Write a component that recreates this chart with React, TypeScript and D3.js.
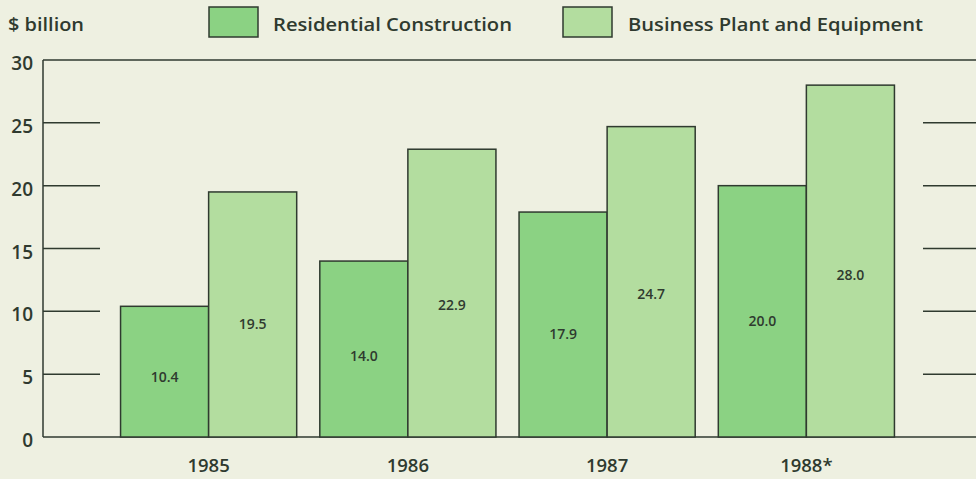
import React from "react";
import * as d3 from "d3";

const years = ["1985", "1986", "1987", "1988*"];
const residential = [10.4, 14.0, 17.9, 20.0];
const business = [19.5, 22.9, 24.7, 28.0];
const seriesNames = ["Residential Construction", "Business Plant and Equipment"];
const yTicks = [0, 5, 10, 15, 20, 25, 30];

const W = 976;
const H = 479;
const BG = "#eef0e1";
const C_RES = "#8bd283";
const C_BUS = "#b3dd9f";
const INK = "#2f3a2f";
const FONT = "'Open Sans', 'DejaVu Sans', sans-serif";

export default function App() {
  const x = d3.scaleBand<string>().domain(years).range([109, 906]).paddingInner(0.116).paddingOuter(0.058);
  const sub = d3.scaleBand<string>().domain(["r", "b"]).range([0, x.bandwidth()]);
  const y = d3.scaleLinear().domain([0, 30]).range([437, 60]);
  const left = 43;
  const right = W;

  return (
    <svg width={W} height={H} style={{ position: "absolute", left: 0, top: 0, background: BG }} fontFamily={FONT}>
      <rect x={0} y={0} width={W} height={H} fill={BG} />
      <text x={8} y={31} fontSize={18} fontWeight={600} fill={INK} textLength={76} lengthAdjust="spacingAndGlyphs">$ billion</text>
      {/* legend */}
      <rect x={209} y={7} width={49} height={30} fill={C_RES} stroke={INK} strokeWidth={1.5} />
      <text x={273} y={31} fontSize={18} fontWeight={600} fill={INK} textLength={239} lengthAdjust="spacingAndGlyphs">{seriesNames[0]}</text>
      <rect x={563} y={7} width={49} height={30} fill={C_BUS} stroke={INK} strokeWidth={1.5} />
      <text x={628} y={31} fontSize={18} fontWeight={600} fill={INK} textLength={295} lengthAdjust="spacingAndGlyphs">{seriesNames[1]}</text>

      {/* frame */}
      <line x1={left} x2={left} y1={y(30)} y2={y(0)} stroke={INK} strokeWidth={1.5} />
      <line x1={left} x2={right} y1={y(30)} y2={y(30)} stroke={INK} strokeWidth={1.5} />
      <line x1={left} x2={right} y1={y(0)} y2={y(0)} stroke={INK} strokeWidth={1.5} />
      {yTicks.filter((t) => t > 0 && t < 30).map((t) => (
        <g key={t}>
          <line x1={left} x2={100} y1={y(t)} y2={y(t)} stroke={INK} strokeWidth={1.5} />
          <line x1={923} x2={right} y1={y(t)} y2={y(t)} stroke={INK} strokeWidth={1.5} />
        </g>
      ))}
      {yTicks.map((t) => (
        <text key={"l" + t} x={33} y={y(t) + 10} textAnchor="end" fontSize={19} fontWeight={600} fill={INK}>{t}</text>
      ))}

      {years.map((yr, i) => {
        const x0 = x(yr)!;
        const bars = [
          { k: "r", v: residential[i], c: C_RES },
          { k: "b", v: business[i], c: C_BUS },
        ];
        return (
          <g key={yr}>
            {bars.map((b) => (
              <g key={b.k}>
                <rect x={x0 + sub(b.k)!} y={y(b.v)} width={sub.bandwidth()} height={y(0) - y(b.v)} fill={b.c} stroke={INK} strokeWidth={1.5} />
                <text x={x0 + sub(b.k)! + sub.bandwidth() / 2} y={y(b.v * 0.46) + 5} textAnchor="middle" fontSize={14} fontWeight={600} fill={INK}>{b.v.toFixed(1)}</text>
              </g>
            ))}
            <text x={x0 + x.bandwidth() / 2} y={472} textAnchor="middle" fontSize={18.5} fontWeight={600} fill={INK}>{yr}</text>
          </g>
        );
      })}
    </svg>
  );
}
